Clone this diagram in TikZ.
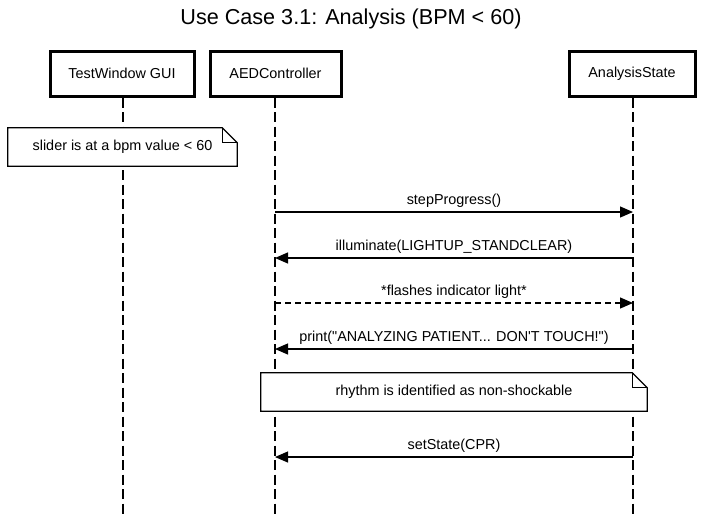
\documentclass[tikz,border=0pt]{standalone}
\usepackage{fontspec}
\setmainfont{Liberation Sans}
\usepackage{tikz}
\usetikzlibrary{arrows.meta}
\usetikzlibrary{backgrounds}

\begin{document}
\begin{tikzpicture}[x=1pt, y=-1pt,
    every node/.style={font=\fontsize{14.4}{17}\selectfont},
    objeto/.style={draw, line width=3pt, minimum height=45pt, inner sep=0pt},
    nota/.style={minimum height=38pt, inner sep=0pt},
    vida/.style={line width=1.3pt, dash pattern=on 10pt off 4.5pt},
    msg/.style={line width=1.2pt, -{Triangle[length=13pt, width=11pt]}},
    resp/.style={msg, dash pattern=on 6pt off 4pt}]
            \useasboundingbox (0,0) rectangle (703,514);
            % Titulo
            \node (titulo) at (351,19) {\fontsize{21.6}{26}\selectfont Use Case 3.1: Analysis (BPM < 60)};

            % Objetos
            \node[objeto, minimum width=144pt] (gui) at (122,73.5) {TestWindow GUI};
            \node[objeto, minimum width=131pt] (aed) at (275.5,73.5) {AEDController};
            \node[objeto, minimum width=126pt] (estado) at (632,73.5) {AnalysisState};
            \coordinate (fgui) at (123,514);
            \coordinate (faed) at (275,514);
            \coordinate (festado) at (633,514);

            % Notas
            \node[nota, minimum width=229pt] (nota1) at (122.5,147) {slider is at a bpm value < 60};
            \node[nota, minimum width=386pt] (nota2) at (454,392) {rhythm is identified as non-shockable};

            % Lineas de vida y fondo de las notas
            \begin{scope}[on background layer]
              \draw[vida] (gui.south -| fgui) -- (fgui);
              \draw[vida] (aed.south -| faed) -- (faed);
              \draw[vida] (estado.south -| festado) -- (festado);
              \foreach \n in {nota1, nota2} {
                \filldraw[fill=white, line width=1.2pt] (\n.south west) -- (\n.north west) -- ([xshift=-15pt]\n.north east)
                  -- ([yshift=-15pt]\n.north east) -- (\n.south east) -- cycle;
                \draw[line width=1.2pt] ([xshift=-15pt]\n.north east) |- ([yshift=-15pt]\n.north east);
              }
            \end{scope}

            % Mensajes
            \coordinate (a1) at (275,212);  \coordinate (b1) at (633,212);
            \coordinate (a2) at (275,258);  \coordinate (b2) at (633,258);
            \coordinate (a3) at (275,303);  \coordinate (b3) at (633,303);
            \coordinate (a4) at (275,349);  \coordinate (b4) at (633,349);
            \coordinate (a5) at (275,457);  \coordinate (b5) at (633,457);
            \draw[msg] (a1) -- node[above=0.5pt] (m1) {stepProgress()} (b1);
            \draw[msg] (b2) -- node[above=0.5pt] (m2) {illuminate(LIGHTUP\_STANDCLEAR)} (a2);
            \draw[resp] (a3) -- node[above=0.5pt] (m3) {*flashes indicator light*} (b3);
            \draw[msg] (b4) -- node[above=0.5pt] (m4) {print(\textquotedbl ANALYZING PATIENT... DON\textquotesingle T TOUCH!\textquotedbl)} (a4);
            \draw[msg] (b5) -- node[above=0.5pt] (m5) {setState(CPR)} (a5);
          \end{tikzpicture}
\end{document}
